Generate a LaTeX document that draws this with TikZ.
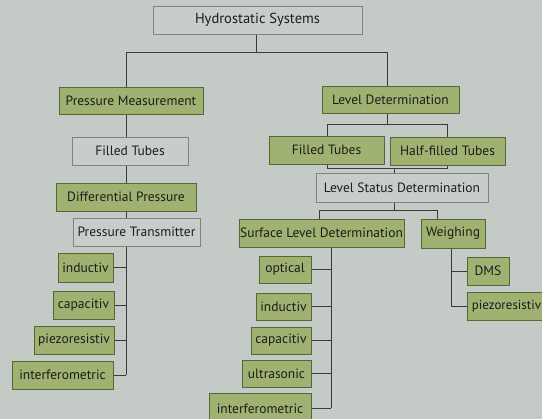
\documentclass[tikz,border=0pt]{standalone}
\usepackage{fontspec}
\setmainfont{PT Sans}
\usetikzlibrary{backgrounds}
\definecolor{bgc}{HTML}{C4CBC7}
\definecolor{grn}{HTML}{A0B272}
\definecolor{grnb}{HTML}{566736}
\definecolor{gryb}{HTML}{7E8480}
\definecolor{gryf}{HTML}{C7CECA}
\definecolor{lnc}{HTML}{3A3A3A}
\definecolor{txc}{HTML}{1C1C1C}
\newcommand\bx[7]{\node[#6, minimum width={(#4-#2)*1pt}, minimum height={(#5-#3)*1pt}] (#1) at ({(#2+#4)/2},{(#3+#5)/2}) {#7};}
\begin{document}
\begin{tikzpicture}[x=1pt,y=-1pt,
  gbox/.style={draw=grnb, fill=grn, line width=0.9pt, inner sep=0pt, text=txc, font=\fontsize{13.5}{15}\selectfont},
  wbox/.style={draw=gryb, fill=gryf, line width=0.9pt, inner sep=0pt, text=txc, font=\fontsize{13.5}{15}\selectfont},
  conn/.style={draw=lnc, line width=0.9pt}]
\useasboundingbox (0,0) rectangle (542,419);
\clip (0,0) rectangle (542,419);
% left branch
\bx{hs}{153}{6}{362}{34}{wbox,font=\fontsize{14.5}{16}\selectfont}{Hydrostatic Systems}
\bx{pm}{59}{87}{203}{114}{gbox}{Pressure Measurement}
\bx{ld}{322}{86}{459}{113}{gbox}{Level Determination}
\bx{ftl}{72}{137}{188}{165}{wbox}{Filled Tubes}
\bx{dp}{56}{183}{196}{211}{gbox}{Differential Pressure}
\bx{pt}{73}{218}{200}{246}{wbox}{Pressure Transmitter}
\bx{ia}{58}{253}{113}{282}{gbox}{inductiv}
\bx{ca}{53}{291}{114}{319}{gbox}{capacitiv}
\bx{pa}{34}{326}{114}{354}{gbox}{piezoresistiv}
\bx{fa}{12}{361}{113}{389}{gbox}{interferometric}
% right branch
\bx{ftr}{269}{136}{384}{164}{gbox}{Filled Tubes}
\bx{hf}{390}{137}{505}{165}{gbox}{Half-filled Tubes}
\bx{lsd}{316}{173}{488}{202}{wbox}{Level Status Determination}
\bx{sld}{239}{219}{404}{247}{gbox}{Surface Level Determination}
\bx{wg}{421}{219}{485}{248}{gbox}{Weighing}
\bx{ob}{259}{256}{311}{283}{gbox}{optical}
\bx{ib}{256}{293}{311}{320}{gbox}{inductiv}
\bx{cb}{251}{327}{311}{354}{gbox}{capacitiv}
\bx{ub}{242}{360}{311}{387}{gbox}{ultrasonic}
\bx{fb}{209}{393}{311}{424}{gbox}{interferometric}
\bx{dms}{467}{257}{509}{285}{gbox}{DMS}
\bx{pb}{467}{292}{546}{320}{gbox,font=\fontsize{13}{15}\selectfont}{piezoresistiv\hspace{3pt}}
% trunk coordinates
\coordinate (hsx) at (256,52);
\coordinate (lx) at (126,52);
\coordinate (rx) at (387,52);
\coordinate (ldx) at (387,124);
\coordinate (brl) at (327,124);
\coordinate (brrb) at (447,168);
\coordinate (lsx) at (394,168);
\coordinate (lsb) at (394,210);
\coordinate (sx) at (319,210);
\coordinate (wx) at (437,210);
\coordinate (sldx) at (331,247);
\coordinate (wgx) at (451,248);
\begin{scope}[on background layer]
\fill[bgc] (0,0) rectangle (542,419);
\draw[conn] (hs.south -| hsx) -- (hsx);
\draw[conn] (pm.north -| lx) -- (lx) -- (rx) -- (ld.north -| rx);
\draw[conn] (pm.south -| lx) -- (fa.east -| lx);
\foreach \n in {ia,ca,pa,fa} \draw[conn] (\n.east) -- (\n.east -| lx);
\draw[conn] (ld.south -| ldx) -- (ldx);
\draw[conn] (brl) rectangle (brrb);
\draw[conn] (lsx) -- (lsd.north -| lsx);
\draw[conn] (lsd.south -| lsb) -- (lsb);
\draw[conn] (sld.north -| sx) -- (sx) -- (wx) -- (wg.north -| wx);
\draw[conn] (sldx) -- (fb.east -| sldx);
\foreach \n in {ob,ib,cb,ub,fb} \draw[conn] (\n.east) -- (\n.east -| sldx);
\draw[conn] (wgx) -- (pb.west -| wgx);
\foreach \n in {dms,pb} \draw[conn] (\n.west) -- (\n.west -| wgx);
\end{scope}
\end{tikzpicture}
\end{document}
